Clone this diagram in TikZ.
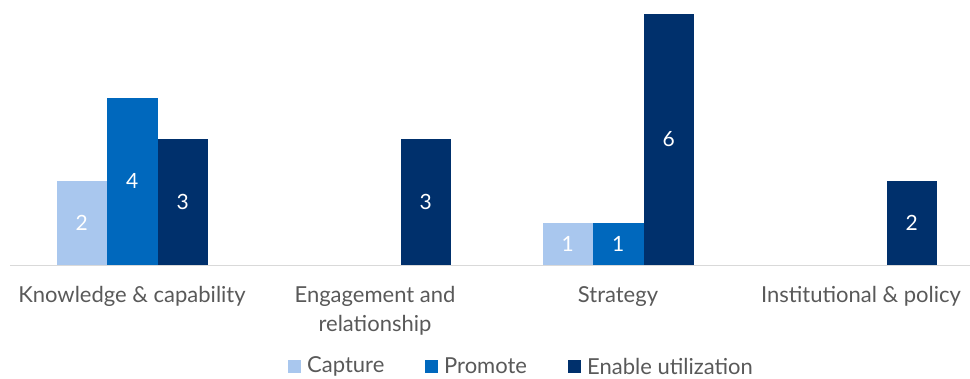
\documentclass[tikz,border=0pt]{standalone}
\usepackage{fontspec}
\setmainfont{Lato}
\definecolor{capcol}{HTML}{A9C7EE}
\definecolor{procol}{HTML}{0068BD}
\definecolor{enacol}{HTML}{00306C}
\definecolor{txtcol}{HTML}{595959}
\definecolor{axiscol}{HTML}{D9D9D9}
\begin{document}
\begin{tikzpicture}[x=1pt,y=-1pt,
  catlabel/.style={text=txtcol,font=\fontsize{22}{29}\selectfont,align=center,anchor=north},
  vallabel/.style={text=white,font=\fontsize{21}{25}\selectfont},
  legtext/.style={text=txtcol,font=\fontsize{22}{26}\selectfont,anchor=west,inner sep=0pt},
  legbox/.style={minimum size=13pt,inner sep=0pt,anchor=center}]
\useasboundingbox (0,0) rectangle (970,379);
% bars
\fill[capcol] (56.5,181.3) rectangle (107,265);
\fill[procol] (107,97.7) rectangle (157.5,265);
\fill[enacol] (157.5,139.5) rectangle (208,265);
\fill[enacol] (400.5,139.5) rectangle (451,265);
\fill[capcol] (542.5,223.2) rectangle (593,265);
\fill[procol] (593,223.2) rectangle (643.5,265);
\fill[enacol] (643.5,14) rectangle (694,265);
\fill[enacol] (886.5,181.3) rectangle (937,265);
% axis
\draw[axiscol,line width=1.5pt] (10,265.5) coordinate (axl) -- (970,265.5) coordinate (axr);
% value labels
\node[vallabel] (v1) at (81.75,223.2) {2};
\node[vallabel] (v2) at (132.25,181.3) {4};
\node[vallabel] (v3) at (182.75,202.2) {3};
\node[vallabel] (v4) at (425.75,202.2) {3};
\node[vallabel] (v5) at (567.75,244.1) {1};
\node[vallabel] (v6) at (618.25,244.1) {1};
\node[vallabel] (v7) at (668.75,139.5) {6};
\node[vallabel] (v8) at (911.75,223.2) {2};
% category labels
\node[catlabel] (c1) at (132,283) {Knowledge \& capability};
\node[catlabel] (c2) at (375,283) {Engagement and\\relationship};
\node[catlabel] (c3) at (618,283) {Strategy};
\node[catlabel] (c4) at (861,283) {Institutional \& policy};
% legend
\node[legbox,fill=capcol] (l1) at (294.5,367) {};
\node[legtext] (t1) at (307,366) {Capture};
\node[legbox,fill=procol] (l2) at (431.5,367) {};
\node[legtext] (t2) at (444,366) {Promote};
\node[legbox,fill=enacol] (l3) at (574.5,367) {};
\node[legtext] (t3) at (587,366) {Enable utilization};
\end{tikzpicture}
\end{document}
